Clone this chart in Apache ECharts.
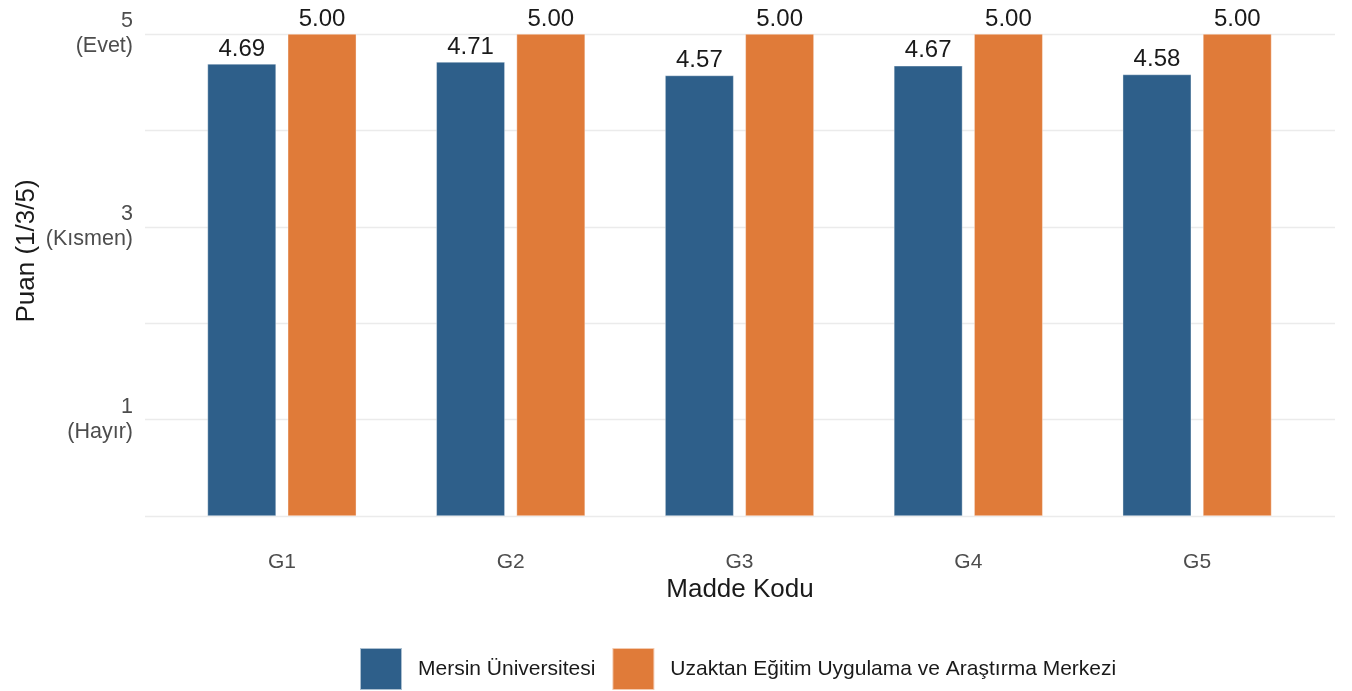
<!DOCTYPE html>
<html>
<head>
<meta charset="utf-8">
<script src="https://cdn.jsdelivr.net/npm/echarts@6/dist/echarts.min.js"></script>
<style>html,body{margin:0;padding:0;background:#fff}#c{width:1352px;height:691px}</style>
</head>
<body>
<div id="c"></div>
<script>
const categories = ['G1', 'G2', 'G3', 'G4', 'G5'];
const seriesNames = ['Mersin Üniversitesi', 'Uzaktan Eğitim Uygulama ve Araştırma Merkezi'];
const mersinValues = [4.69, 4.71, 4.57, 4.67, 4.58];
const uzemValues = [5.00, 5.00, 5.00, 5.00, 5.00];
const yTickLabels = { 1: '1\n(Hayır)', 3: '3\n(Kısmen)', 5: '5\n(Evet)' };
const colors = ['#2e5f8a', '#e07b39'];

const font = 'Liberation Sans, Arial, sans-serif';
const chart = echarts.init(document.getElementById('c'));

function barSeries(name, data, color) {
  return {
    name: name,
    type: 'bar',
    xAxisIndex: 1,
    yAxisIndex: 1,
    data: data,
    barWidth: 68.6,
    barGap: '17%',
    itemStyle: { color: color, borderColor: 'rgba(255,255,255,0.6)', borderWidth: 0.6 },
    label: {
      show: true,
      position: 'top',
      distance: 3,
      formatter: p => p.value.toFixed(2),
      fontFamily: font,
      fontSize: 24,
      color: '#1a1a1a'
    }
  };
}

chart.setOption({
  animation: false,
  backgroundColor: '#ffffff',
  textStyle: { fontFamily: font },
  grid: [
    { left: 145, right: 17, top: 34, bottom: 175 },
    { left: 167.5, right: 40.5, top: 34, bottom: 175 }
  ],
  xAxis: [
    {
      gridIndex: 0, type: 'value', min: 0, max: 1,
      axisLine: { show: false }, axisTick: { show: false }, axisLabel: { show: false }, splitLine: { show: false },
      name: 'Madde Kodu', nameLocation: 'middle', nameGap: 61,
      nameTextStyle: { fontFamily: font, fontSize: 26, color: '#1a1a1a' }
    },
    {
      gridIndex: 1, type: 'category', data: categories,
      axisLine: { show: false }, axisTick: { show: false }, splitLine: { show: false },
      axisLabel: { margin: 36, fontFamily: font, fontSize: 21, color: '#4d4d4d' }
    }
  ],
  yAxis: [
    {
      gridIndex: 0, type: 'value', min: 0, max: 5, interval: 1,
      axisLine: { show: false }, axisTick: { show: false },
      splitLine: { show: true, lineStyle: { color: '#ebebeb', width: 1.4 } },
      axisLabel: {
        margin: 12, fontFamily: font, fontSize: 21.5, color: '#4d4d4d', lineHeight: 25, align: 'right',
        formatter: v => yTickLabels[v] || ''
      },
      name: 'Puan (1/3/5)', nameLocation: 'middle', nameGap: 105, nameRotate: 90,
      nameMoveOverlap: false,
      nameTextStyle: { fontFamily: font, fontSize: 26, color: '#1a1a1a', padding: [0, 0, 0, 48] }
    },
    {
      gridIndex: 1, type: 'value', min: 0, max: 5, show: false
    }
  ],
  legend: {
    data: seriesNames,
    left: 359, top: 647, padding: 0,
    itemWidth: 42, itemHeight: 42, itemGap: 16,
    icon: 'rect',
    textStyle: { fontFamily: font, fontSize: 21, color: '#1a1a1a', padding: [0, 0, 0, 11] }
  },
  series: [
    barSeries(seriesNames[0], mersinValues, colors[0]),
    barSeries(seriesNames[1], uzemValues, colors[1])
  ]
});
</script>
</body>
</html>
